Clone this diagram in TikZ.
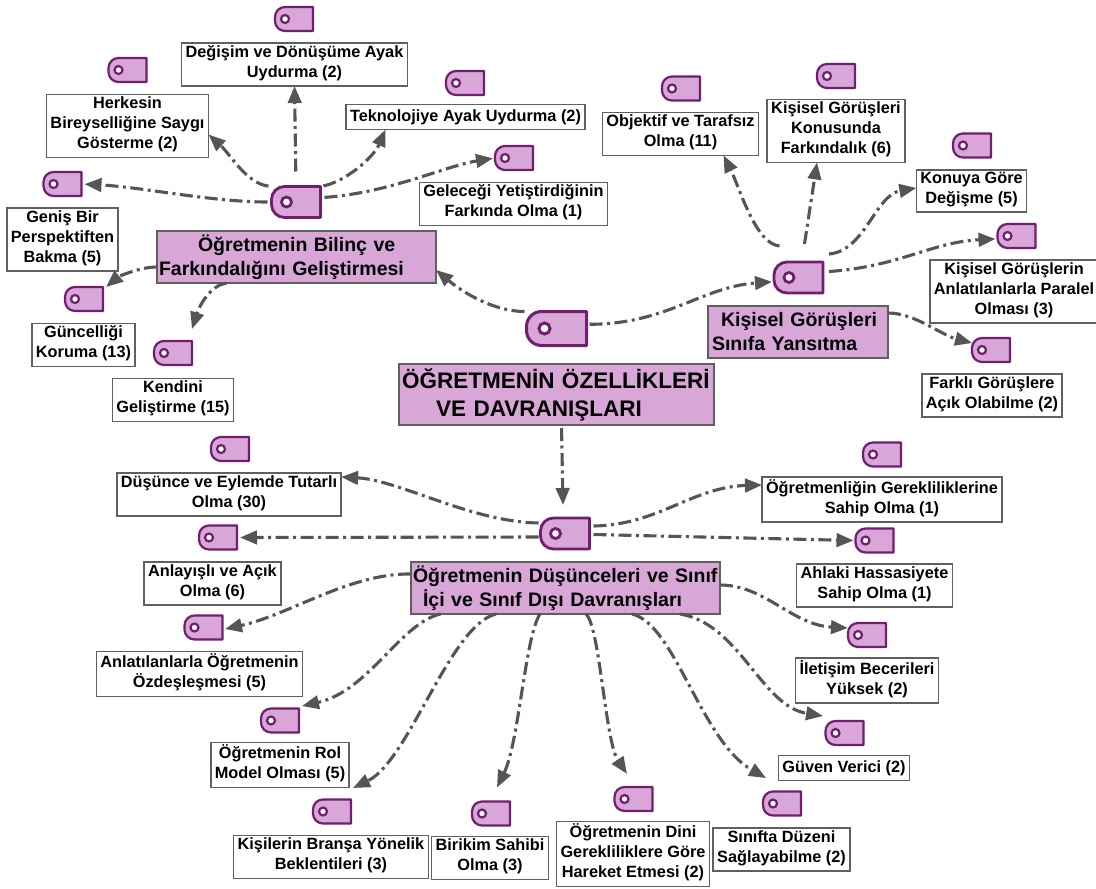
\documentclass[tikz,border=0pt]{standalone}
\usepackage{fontspec}
\setmainfont{Liberation Sans}
\usetikzlibrary{arrows.meta,calc}

\definecolor{tagfill}{RGB}{216,167,216}
\definecolor{tagline}{RGB}{112,30,112}
\definecolor{boxline}{RGB}{95,95,95}
\definecolor{connline}{RGB}{85,85,85}

\tikzset{
  leaf/.style={draw=boxline, line width=1.6pt, fill=white, align=center,
    inner xsep=4pt, inner ysep=2.5pt, outer sep=0pt,
    font=\fontsize{16.3}{20}\selectfont\bfseries,
    execute at begin node=\strut, execute at end node=\strut},
  cat/.style={draw=boxline, line width=1.6pt, fill=tagfill, align=left,
    inner xsep=2pt, inner ysep=0pt, outer sep=0pt,
    font=\fontsize{19.5}{24}\selectfont\bfseries},
  ttl/.style={draw=boxline, line width=1.6pt, fill=tagfill, align=left,
    inner xsep=2pt, inner ysep=0pt, outer sep=0pt,
    font=\fontsize{22.5}{28}\selectfont\bfseries},
  conn/.style={draw=connline, line width=3.1pt,
    dash pattern=on 13pt off 4.5pt on 3pt off 4.5pt,
    -{Triangle[length=17pt,width=13.5pt]}},
}

\newcommand{\tagicon}[9]{%
  \node[inner sep=0pt, outer sep=0pt, minimum width=#4pt, minimum height=#5pt] (#1) at (#2,#3) {};
  \draw[draw=tagline, fill=tagfill, line width=#9pt, line join=round]
    (#1.north east) -- ([xshift=#6pt]#1.north west)
    arc[start angle=90,end angle=180,radius=#6pt]
    -- ([yshift=#6pt]#1.south west)
    arc[start angle=180,end angle=270,radius=#6pt]
    -- (#1.south east) -- cycle;
  \draw[draw=tagline, fill=white, line width=#9pt] ([xshift=#7pt]#1.west) circle[radius=#8pt];
}
\newcommand{\smallicon}[3]{\tagicon{#1}{#2}{#3}{38}{24}{10}{10}{4}{2.2}}
\newcommand{\hubicon}[3]{\tagicon{#1}{#2}{#3}{49}{31}{13}{15}{5}{2.8}}
\newcommand{\mainicon}[3]{\tagicon{#1}{#2}{#3}{60}{34}{15}{18}{5.5}{3}}

\begin{document}
\begin{tikzpicture}[x=1pt,y=-1pt]
\useasboundingbox (0,0) rectangle (1096,889);
\fill[white] (0,0) rectangle (1096,889);

% ---------- leaf boxes ----------
\node[leaf] (bDeg) at (294.5,64.5) {Değişim ve Dönüşüme Ayak\\Uydurma (2)};
\node[leaf] (bHer) at (127.5,126) {Herkesin\\Bireyselliğine Saygı\\Gösterme (2)};
\node[leaf] (bGen) at (62.5,239.5) {Geniş Bir\\Perspektiften\\Bakma (5)};
\node[leaf] (bTek) at (465.5,117) {Teknolojiye Ayak Uydurma (2)};
\node[leaf] (bGel) at (513.5,204) {Geleceği Yetiştirdiğinin\\Farkında Olma (1)};
\node[leaf] (bGun) at (83.5,345) {Güncelliği\\Koruma (13)};
\node[leaf] (bKen) at (173,400) {Kendini\\Geliştirme (15)};
\node[leaf] (bObj) at (680.5,134) {Objektif ve Tarafsız\\Olma (11)};
\node[leaf] (bKon) at (836,131) {Kişisel Görüşleri\\Konusunda\\Farkındalık (6)};
\node[leaf] (bKny) at (971.5,191) {Konuya Göre\\Değişme (5)};
\node[leaf] (bPar) at (1014,291.5) {Kişisel Görüşlerin\\Anlatılanlarla Paralel\\Olması (3)};
\node[leaf] (bFar) at (992,395.5) {Farklı Görüşlere\\Açık Olabilme (2)};
\node[leaf] (bDus) at (229,494.5) {Düşünce ve Eylemde Tutarlı\\Olma (30)};
\node[leaf] (bAnl) at (212.5,583.5) {Anlayışlı ve Açık\\Olma (6)};
\node[leaf] (bAnt) at (199.5,674) {Anlatılanlarla Öğretmenin\\Özdeşleşmesi (5)};
\node[leaf] (bOgr) at (882,499.5) {Öğretmenliğin Gerekliliklerine\\Sahip Olma (1)};
\node[leaf] (bAhl) at (874.5,585.5) {Ahlaki Hassasiyete\\Sahip Olma (1)};
\node[leaf] (bIle) at (867,680.5) {İletişim Becerileri\\Yüksek (2)};
\node[leaf] (bGuv) at (844,768) {Güven Verici (2)};
\node[leaf] (bRol) at (280,765) {Öğretmenin Rol\\Model Olması (5)};
\node[leaf] (bKis) at (331,857) {Kişilerin Branşa Yönelik\\Beklentileri (3)};
\node[leaf] (bBir) at (490,858) {Birikim Sahibi\\Olma (3)};
\node[leaf] (bDin) at (633,854) {Öğretmenin Dini\\Gerekliliklere Göre\\Hareket Etmesi (2)};
\node[leaf] (bSin) at (781.5,849.5) {Sınıfta Düzeni\\Sağlayabilme (2)};

% ---------- category boxes ----------
\node[cat, text width=275pt, minimum height=52pt] (c1) at (296.5,257)
  {\hspace*{39pt}\mbox{Öğretmenin Bilinç ve}\\\mbox{Farkındalığını Geliştirmesi}};
\node[cat, text width=176pt, minimum height=52pt] (c2) at (798,332)
  {\hspace*{11pt}\mbox{Kişisel Görüşleri}\\\hspace*{2pt}\mbox{Sınıfa Yansıtma}};
\node[cat, text width=305pt, minimum height=52pt] (c3) at (565.5,588)
  {\mbox{Öğretmenin Düşünceleri ve Sınıf}\\\hspace*{10pt}\mbox{İçi ve Sınıf Dışı Davranışları}};
\node[ttl, text width=311pt, minimum height=61pt] (title) at (556.5,394.5)
  {\hspace*{1pt}\mbox{ÖĞRETMENİN ÖZELLİKLERİ}\\\hspace*{35pt}\mbox{VE DAVRANIŞLARI}};

% ---------- icons ----------
\smallicon{iDeg}{294}{19}
\smallicon{iHer}{127.5}{70}
\smallicon{iGen}{62.5}{184}
\smallicon{iTek}{465}{83}
\smallicon{iGel}{514}{158}
\smallicon{iGun}{84}{299}
\smallicon{iKen}{173}{353}
\smallicon{iObj}{681}{88.5}
\smallicon{iKon}{836}{76}
\smallicon{iKny}{972}{145.5}
\smallicon{iPar}{1016.5}{236}
\smallicon{iFar}{991}{350}
\smallicon{iDus}{230}{449}
\smallicon{iAnl}{218}{537.5}
\smallicon{iAnt}{203.5}{627.5}
\smallicon{iOgr}{882}{454.5}
\smallicon{iAhl}{874.5}{540.5}
\smallicon{iIle}{867}{635}
\smallicon{iGuv}{844.5}{733}
\smallicon{iRol}{280}{720.5}
\smallicon{iKis}{332}{811.5}
\smallicon{iBir}{491}{813.5}
\smallicon{iDin}{633.5}{799}
\smallicon{iSin}{782}{803.5}

\hubicon{h1}{296}{202}
\hubicon{h2}{798.5}{277.5}
\hubicon{h3}{565}{533.5}
\mainicon{main}{556.5}{328.5}

% ---------- connectors ----------
% main
\draw[conn, shorten <=2pt] (main.north west) .. controls +(-30,0) and +(30,25) .. ([yshift=-13pt]c1.east);
\draw[conn, shorten <=3pt] (main.8) .. controls +(80,0) and +(-70,5) .. ([xshift=-2pt]h2.190);
\draw[conn, shorten <=3pt] ([xshift=5pt]title.south) -- ([xshift=-2pt,yshift=13pt]h3.north);

% hub 1
\draw[conn, shorten <=15pt] (h1.north) -- (bDeg.south);
\draw[conn, shorten <=3pt] (h1.north west) .. controls +(-25,-3) and +(22,20) .. (bHer.-6);
\draw[conn, shorten <=4pt, shorten >=3pt] (h1.west) .. controls +(-60,0) and +(60,3) .. (iGen.east);
\draw[conn, shorten <=3pt] (h1.north east) .. controls +(25,-5) and +(-12,28) .. ([xshift=-80pt]bTek.south);
\draw[conn, shorten <=4pt, shorten >=2pt] (h1.10) .. controls +(70,-5) and +(-50,8) .. (iGel.west);
% category 1
\draw[conn] ([yshift=-10pt]c1.west) .. controls +(-18,0) and +(12,-10) .. ([xshift=3pt]iGun.north east);
\draw[conn] ([xshift=-70pt]c1.south) .. controls +(-15,2) and +(8,-25) .. ([yshift=12pt]iKen.north east);

% hub 2
\draw[conn] ([xshift=-19pt,yshift=16pt]h2.north) .. controls +(-24,-2) and +(16,32) .. ([xshift=43pt]bObj.south);
\draw[conn] ([xshift=6pt,yshift=18pt]h2.north) -- ([xshift=-19pt]bKon.south);
\draw[conn] ([xshift=6pt,yshift=8pt]h2.north east) .. controls +(36,-3) and +(-41,7) .. ([yshift=3pt]bKny.west);
\draw[conn] ([xshift=6pt,yshift=6pt]h2.east) .. controls +(71,-5) and +(-64,3) .. ([xshift=-2pt,yshift=-3pt]iPar.west);
% category 2
\draw[conn] ([yshift=-7pt]c2.north east) .. controls +(27,0) and +(-31,-8) .. ([yshift=7pt]iFar.west);

% hub 3
\draw[conn, shorten <=2pt] ([yshift=10.5pt]h3.west) .. controls +(-69,-1) and +(58,3) .. ([yshift=17.5pt]bDus.east);
\draw[conn, shorten <=2pt] ([yshift=-3.5pt]h3.west) -- ([xshift=3pt]iAnl.east);
\draw[conn] ([xshift=4pt,yshift=7.5pt]h3.east) .. controls +(65,-1) and +(-70,2) .. ([yshift=14.5pt]bOgr.west);
\draw[conn] ([xshift=4pt,yshift=-1pt]h3.east) -- ([xshift=-2pt]iAhl.west);
% category 3
\draw[conn] ([yshift=14pt]c3.west) .. controls +(-61,-1) and +(64,-14) .. ([xshift=2.5pt,yshift=-1.5pt]iAnt.east);
\draw[conn] ([xshift=-125pt]c3.south) .. controls +(-40,9) and +(67,-15) .. ([xshift=3pt,yshift=2.5pt]iRol.north east);
\draw[conn] ([xshift=-69.5pt]c3.south) .. controls +(-46,11) and +(56,-27) .. ([xshift=2pt,yshift=11.5pt]iKis.north east);
\draw[conn] ([xshift=-25.5pt]c3.south) .. controls +(-15,23) and +(22,-45) .. ([xshift=6pt,yshift=14pt]iBir.north);
\draw[conn] ([xshift=20.5pt]c3.south) .. controls +(14,13) and +(-22,-33) .. ([xshift=-6.5pt,yshift=13pt]iDin.north);
\draw[conn] ([xshift=66.5pt]c3.south) .. controls +(43,10) and +(-65,-37) .. ([xshift=3pt,yshift=13.5pt]iSin.north west);
\draw[conn] ([xshift=114.5pt]c3.south) .. controls +(60,10) and +(-62,-10) .. ([xshift=-2.5pt,yshift=5pt]iGuv.north west);
\draw[conn] ([yshift=3pt]c3.east) .. controls +(45,0) and +(-56,-3) .. ([yshift=7pt]iIle.west);

\end{tikzpicture}
\end{document}
